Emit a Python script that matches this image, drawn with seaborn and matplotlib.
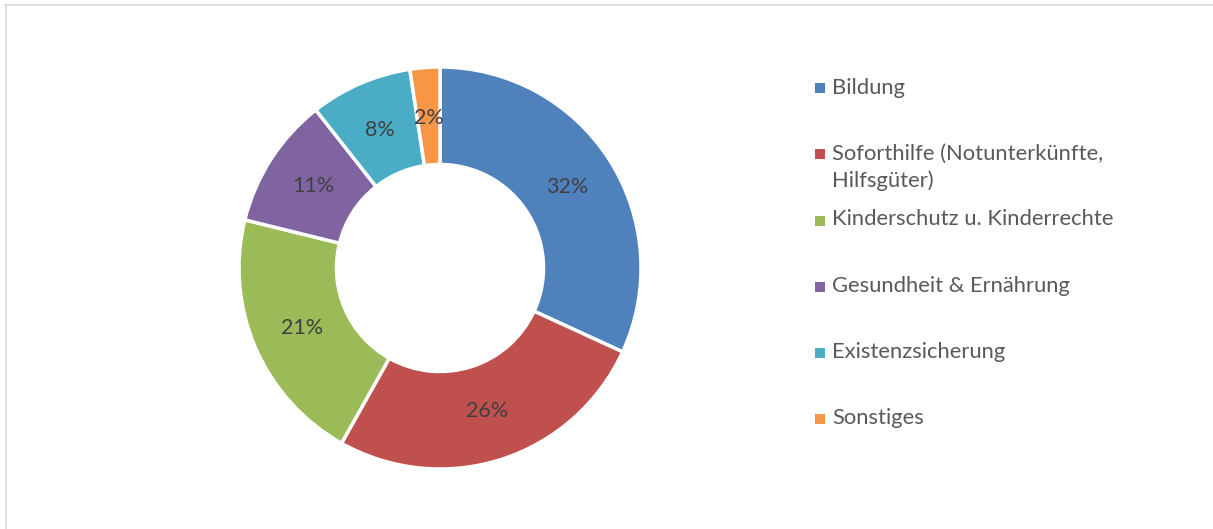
import matplotlib
matplotlib.use("Agg")
import matplotlib.pyplot as plt
import seaborn as sns
from matplotlib.patches import Rectangle
from matplotlib.lines import Line2D

sns.set_theme(style="white")
plt.rcParams['font.family'] = ['Lato', 'DejaVu Sans']

categories = ["Bildung", "Soforthilfe (Notunterkünfte,\nHilfsgüter)", "Kinderschutz u. Kinderrechte",
              "Gesundheit & Ernährung", "Existenzsicherung", "Sonstiges"]
values = [31.85, 26.3, 20.7, 10.55, 8.2, 2.4]
colors = ["#4F81BD", "#C0504D", "#9BBB59", "#8064A2", "#4BACC6", "#F79646"]

W, H = 1213, 529
fig = plt.figure(figsize=(W / 100, H / 100), dpi=100)
fig.patch.set_facecolor("white")

# donut axes: center (440,268), radius 200 px
cx, cy, r = 440, 268, 201
ax = fig.add_axes([(cx - r) / W, (H - cy - r) / H, 2 * r / W, 2 * r / H])
wedges, texts, autotexts = ax.pie(
    values, colors=colors, startangle=90, counterclock=False,
    autopct=lambda p: f"{int(p + 0.5)}%", pctdistance=0.75,
    wedgeprops=dict(width=0.485, edgecolor="white", linewidth=2.5),
    textprops=dict(fontsize=15.5, color="#404040"),
)
ax.set_xlim(-1, 1)
ax.set_ylim(-1, 1)
ax.set_aspect("equal")
ax.axis("off")

# legend (manual, Excel-like layout)
marker_y = [88, 154, 221, 287, 353, 419]
text_y = [88, 167.5, 219, 286, 352, 418]
for lab, col, my, ty in zip(categories, colors, marker_y, text_y):
    fig.patches.append(Rectangle((815 / W, (H - my - 5) / H), 10 / W, 10 / H,
                                 transform=fig.transFigure, facecolor=col, edgecolor="none"))
    fig.text(832 / W, (H - ty) / H, lab, ha="left", va="center",
             fontsize=15.8, color="#595959", linespacing=1.35)

# frame border (only top/left visible)
fig.add_artist(Line2D([5 / W, 1], [(H - 4.5) / H] * 2, transform=fig.transFigure, color="#D9D9D9", lw=1.2))
fig.add_artist(Line2D([5.5 / W] * 2, [0, (H - 4.5) / H], transform=fig.transFigure, color="#D9D9D9", lw=1.2))

fig.savefig("out.png", dpi=100, facecolor="white")
